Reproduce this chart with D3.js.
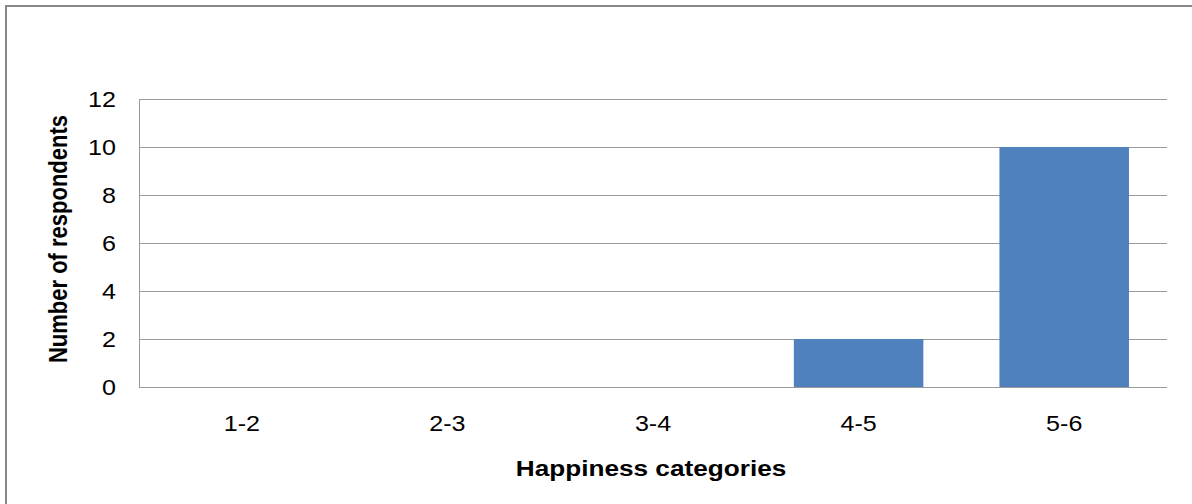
<!DOCTYPE html>
<html>
<head>
<meta charset="utf-8">
<script src="https://cdn.jsdelivr.net/npm/d3@7/dist/d3.min.js"></script>
<style>
  html, body { margin: 0; padding: 0; background: #fff; }
  svg { display: block; font-family: "Liberation Sans", Arial, sans-serif; }
</style>
</head>
<body>
<svg id="chart" width="1192" height="504"></svg>
<script>
// Respondents per happiness category
const categories = ["1-2", "2-3", "3-4", "4-5", "5-6"];
const counts = [0, 0, 0, 2, 10];
const yTicks = [0, 2, 4, 6, 8, 10, 12];

const W = 1192, H = 504;
const plot = { left: 139, right: 1167, top: 99, bottom: 387 };
const stretch = 1.14; // horizontal text stretch

const svg = d3.select("#chart");

// outer frame
svg.append("rect")
  .attr("x", 6).attr("y", 6)
  .attr("width", W + 20).attr("height", H + 20)
  .attr("fill", "#fff")
  .attr("stroke", "#878787")
  .attr("stroke-width", 2);

const x = d3.scaleBand()
  .domain(categories)
  .range([plot.left, plot.right])
  .paddingInner(0.37)
  .paddingOuter(0.185);

const y = d3.scaleLinear()
  .domain([0, 12])
  .range([plot.bottom, plot.top]);

// horizontal gridlines
svg.append("g")
  .selectAll("line")
  .data(yTicks)
  .join("line")
  .attr("x1", plot.left).attr("x2", plot.right)
  .attr("y1", d => Math.round(y(d)) + 0.5)
  .attr("y2", d => Math.round(y(d)) + 0.5)
  .attr("stroke", "#9a9a9a")
  .attr("stroke-width", 1);

// bars
svg.append("g")
  .selectAll("rect")
  .data(categories.map((c, i) => ({ c, v: counts[i] })))
  .join("rect")
  .attr("x", d => x(d.c))
  .attr("width", x.bandwidth())
  .attr("y", d => y(d.v))
  .attr("height", d => y(0) - y(d.v))
  .attr("fill", "#4f81bd");

// vertical axis line
svg.append("line")
  .attr("x1", plot.left + 0.5).attr("x2", plot.left + 0.5)
  .attr("y1", plot.top).attr("y2", plot.bottom + 1)
  .attr("stroke", "#9a9a9a");

// y axis labels
const yAxis = d3.axisLeft(y).tickValues(yTicks).tickSize(0).tickPadding(0);
const yg = svg.append("g").attr("transform", `translate(${plot.left},0)`).call(yAxis);
yg.select(".domain").remove();
yg.selectAll("text")
  .attr("x", null).attr("dy", null)
  .attr("font-size", 22)
  .attr("font-family", "Liberation Sans, Arial, sans-serif")
  .attr("fill", "#000")
  .attr("dominant-baseline", "central")
  .attr("text-anchor", "end")
  .attr("transform", `translate(-23,0) scale(${stretch},1)`);

// x axis labels
const xAxis = d3.axisBottom(x).tickSize(0).tickPadding(0);
const xg = svg.append("g").attr("transform", `translate(0,${plot.bottom})`).call(xAxis);
xg.select(".domain").remove();
xg.selectAll(".tick text")
  .attr("y", null).attr("dy", null)
  .attr("font-size", 22)
  .attr("font-family", "Liberation Sans, Arial, sans-serif")
  .attr("fill", "#000")
  .attr("transform", `translate(0,44) scale(${stretch},1)`);

// axis titles
svg.append("text")
  .attr("transform", `translate(${(plot.left + plot.right) / 2 - 2},476) scale(1.19,1)`)
  .attr("text-anchor", "middle")
  .attr("font-size", 22)
  .attr("font-weight", "bold")
  .attr("fill", "#000")
  .text("Happiness categories");

svg.append("text")
  .attr("transform", `translate(67,${(plot.top + plot.bottom) / 2 - 4}) scale(${stretch},1) rotate(-90)`)
  .attr("text-anchor", "middle")
  .attr("font-size", 22)
  .attr("font-weight", "bold")
  .attr("fill", "#000")
  .text("Number of respondents");
</script>
</body>
</html>
